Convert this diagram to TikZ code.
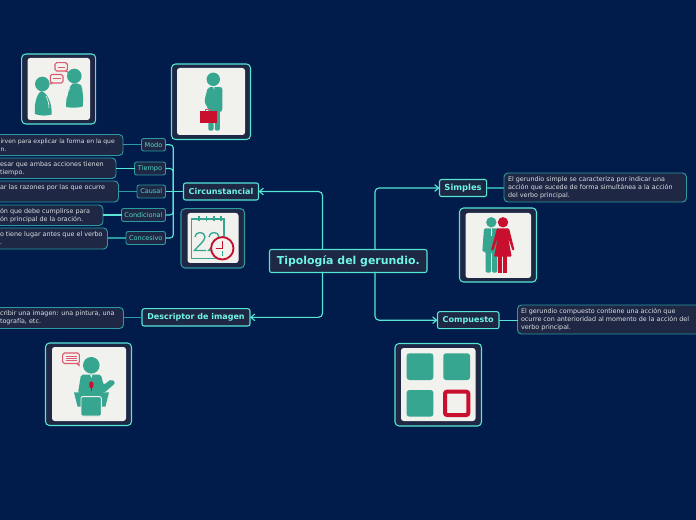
\documentclass[tikz,border=0pt]{standalone}
\usepackage{fontspec}
\setmainfont{DejaVu Sans}
\usetikzlibrary{arrows.meta}
\definecolor{bg}{HTML}{011B4A}
\definecolor{panel}{HTML}{1E2744}
\definecolor{bright}{HTML}{55E6D6}
\definecolor{dim}{HTML}{2C9AA0}
\definecolor{mint}{HTML}{6FF5E6}
\definecolor{smalltxt}{HTML}{DDE0E3}
\definecolor{leaf}{HTML}{4FD6C8}
\definecolor{green}{HTML}{36A690}
\definecolor{redd}{HTML}{C8102E}
\definecolor{pinkk}{HTML}{DC5A70}
\definecolor{paper}{HTML}{F1F1ED}
\tikzset{
  x=0.75pt,y=-0.75pt,
  mainbox/.style={draw=bright,fill=panel,line width=0.8pt,rounded corners=1.6pt,inner sep=0pt,outer sep=0pt,text=mint,font=\bfseries},
  leafbox/.style={draw=dim,fill=panel,line width=0.7pt,rounded corners=1.6pt,inner sep=0pt,outer sep=0pt,text=leaf,font=\fontsize{4.9}{6}\selectfont},
  descbox/.style={draw=dim,fill=panel,line width=0.7pt,rounded corners=3pt,inner sep=0pt,outer sep=0pt},
  desctext/.style={inner sep=0pt,outer sep=0pt,text=smalltxt,align=left,font=\fontsize{4.8}{6}\selectfont},
  arrowlink/.style={draw=bright,line width=0.85pt,rounded corners=3pt,-{Straight Barb[length=3pt,width=5pt]}},
  brlink/.style={draw=bright,line width=0.85pt,rounded corners=2.5pt},
  linkb/.style={draw=bright,line width=0.85pt},
  linkd/.style={draw=dim,line width=1.1pt},
  frameb/.style={draw=bright,fill=panel,line width=0.7pt,rounded corners=3pt},
  framed/.style={draw=dim,fill=panel,line width=0.8pt,rounded corners=3pt},
  sheet/.style={fill=paper,rounded corners=2pt},
  gf/.style={fill=green},
  rf/.style={fill=redd},
  bubble/.style={draw=pinkk,fill=paper,line width=0.8pt,rounded corners=1.2pt},
  bubbleline/.style={draw=pinkk,line width=0.7pt},
}
% name, style, x1, y1, x2, y2, text
\newcommand{\bx}[7]{%
  \pgfmathsetmacro{\bw}{(#5-#3)*0.75}%
  \pgfmathsetmacro{\bh}{(#6-#4)*0.75}%
  \pgfmathsetmacro{\bcx}{(#3+#5)/2}%
  \pgfmathsetmacro{\bcy}{(#4+#6)/2}%
  \node[#2,minimum width=\bw pt,minimum height=\bh pt] (#1) at (\bcx,\bcy) {#7};}
\begin{document}
\begin{tikzpicture}
\useasboundingbox[fill=bg] (0,0) rectangle (696,520);

% free ends of the connectors on the root
\coordinate (rootNW) at (322.5,250);
\coordinate (rootSW) at (322.5,272);
\coordinate (rootNE) at (375,250);
\coordinate (rootSE) at (375,272);

% leaf description boxes
\bx{dmodo}{descbox}{-20}{134.5}{123}{155.5}{}
\bx{dtiempo}{descbox}{-20}{158}{116}{178.5}{}
\bx{dcausal}{descbox}{-20}{181}{118.5}{202}{}
\bx{dcond}{descbox}{-20}{205}{103}{225.5}{}
\bx{dconc}{descbox}{-20}{228}{107.5}{249}{}
\bx{ddesc}{descbox}{-20}{307.5}{123.5}{328.5}{}
\bx{dsimp}{descbox}{504}{173}{686.5}{202}{}
\bx{dcomp}{descbox}{517.5}{305}{710}{334}{}

\node[desctext,anchor=west,font=\fontsize{4.55}{6}\selectfont] (tmodo) at (0.5,145) {irven para explicar la forma en la que\\n.};
\node[desctext,anchor=west] (ttiempo) at (0,168.3) {esar que ambas acciones tienen\\tiempo.};
\node[desctext,anchor=west] (tcausal) at (0,191.5) {ar las razones por las que ocurre\\\phantom{x}};
\node[desctext,anchor=west] (tcond) at (0,215.3) {ón que debe cumplirse para\\ón principal de la oración.};
\node[desctext,anchor=west] (tconc) at (0,238.5) {o tiene lugar antes que el verbo\\.};
\node[desctext,anchor=west] (tdesc) at (0,318) {cribir una imagen: una pintura, una\\tografía, etc.};
\node[desctext,anchor=west] (tsimp) at (508,187.5) {El gerundio simple se caracteriza por indicar una\\acción que sucede de forma simultánea a la acción\\del verbo principal.};
\node[desctext,anchor=west] (tcomp) at (521,319.5) {El gerundio compuesto contiene una acción que\\ocurre con anterioridad al momento de la acción del\\verbo principal.};

% branch labels
\bx{modo}{leafbox}{141.5}{138.5}{165.5}{151}{Modo}
\bx{tiempo}{leafbox}{134.5}{162}{165.5}{175}{Tiempo}
\bx{causal}{leafbox}{137}{185}{165.5}{198}{Causal}
\bx{cond}{leafbox}{121.5}{208.5}{165.5}{221.5}{Condicional}
\bx{conc}{leafbox}{126}{231.5}{165.5}{244.5}{Concesivo}

% main nodes
\bx{root}{mainbox,font=\bfseries\fontsize{8.2}{9}\selectfont}{269.5}{249.5}{427}{272.5}{Tipología del gerundio.}
\bx{circ}{mainbox,font=\bfseries\fontsize{6.05}{7}\selectfont}{183.5}{183}{258.5}{200}{Circunstancial}
\bx{simp}{mainbox,font=\bfseries\fontsize{6.3}{7}\selectfont}{439.5}{179.5}{486.7}{196.5}{Simples}
\bx{comp}{mainbox,font=\bfseries\fontsize{6.05}{7}\selectfont}{437.5}{311.7}{499}{328.7}{Compuesto}
\bx{desc}{mainbox,font=\bfseries\fontsize{6}{7}\selectfont}{142}{308.7}{250}{326}{Descriptor de imagen}

% connectors
\draw[arrowlink] (rootNW) |- (circ.east);
\draw[arrowlink] (rootSW) |- (desc.east);
\draw[arrowlink] (rootNE) |- (simp.west);
\draw[arrowlink] (rootSE) |- (comp.west);
\coordinate (busx) at (173.3,192);
\draw[brlink] (modo.east) -| (busx) |- (conc.east);
\draw[brlink] (tiempo.east) -| (busx);
\draw[brlink] (cond.east) -| (busx);
\draw[linkb] (circ.west) -- (causal.east);
\draw[linkd] (modo.west) -- (modo.west -| dmodo.east);
\draw[linkb] (tiempo.west) -- (tiempo.west -| dtiempo.east);
\draw[linkd] (causal.west) -- (causal.west -| dcausal.east);
\draw[linkb] (cond.west) -- (cond.west -| dcond.east);
\draw[linkd] (conc.west) -- (conc.west -| dconc.east);
\draw[linkd] (desc.west) -- (desc.west -| ddesc.east);
\draw[linkd] (simp.east) -- (simp.east -| dsimp.west);
\draw[linkb] (comp.east) -- (comp.east -| dcomp.west);

% talk icon
\filldraw[framed,draw=bright] (21.7,54) rectangle (95.7,124);
\fill[sheet] (27.5,58) rectangle (90,120);
\fill[gf] (42.3,84) circle (7.3);
\fill[gf] (74.3,76) circle (7.3);
\fill[gf] (41.5,91) .. controls (36,94) and (34,106) .. (35,114) .. controls (40,116) and (47,116) .. (51.7,114.5) .. controls (52,106) and (49,94) .. (41.5,91) -- cycle;
\fill[gf] (73,83.5) .. controls (69,86) and (66,96) .. (66,107) .. controls (71,108) and (78,108) .. (82.7,106.5) .. controls (83.5,98) and (83,90) .. (81,85) .. controls (79,83.5) and (76,83) .. (73,83.5) -- cycle;
\draw[paper,line width=0.5pt] (46,96) .. controls (48,100) and (49,104) .. (49,108);
\draw[paper,line width=0.5pt] (70,88) .. controls (68,91) and (67,94) .. (67,97);
\draw[bubble] (55,62.7) rectangle (67.3,71);
\fill[pinkk] (65,71) -- (68,71) -- (68,73) -- cycle;
\draw[bubbleline] (57.5,67) -- (65,67);
\draw[bubble] (50.3,74.5) rectangle (63,83);
\fill[pinkk] (50.3,81) -- (53,83) -- (50.3,85) -- cycle;
\draw[bubbleline] (52.5,78.8) -- (61,78.8);

% man icon
\filldraw[framed,draw=bright] (171.5,64) rectangle (250.5,139.5);
\fill[sheet] (177,68) rectangle (245,135);
\fill[gf] (213.3,79.3) circle (6.7);
\fill[gf,rounded corners=1.5pt] (208,87.2) -- (222.3,87.2) -- (222.3,111) -- (219.8,111) -- (219.8,130.7) -- (214.8,130.7) -- (214.8,112) -- (213.6,112) -- (213.6,130.7) -- (208.3,130.7) -- (208.3,108) -- (205.5,105) -- (204.5,100) -- cycle;
\fill[paper] (213.3,87.2) -- (214.5,87.2) -- (214.1,90) -- cycle;
\fill[rf] (200,111) rectangle (216.7,122.7);
\draw[pinkk,line width=0.7pt] (205,111) -- (205,109.5) -- (211.5,109.5) -- (211.5,111);

% calendar icon
\filldraw[framed,draw=dim] (181,208.7) rectangle (244.5,268);
\fill[sheet] (187.5,213) rectangle (238.5,263);
\draw[green,line width=0.9pt] (191.7,219) rectangle (224,258.3);
\foreach \rx in {199,206.5,214,221}{\draw[green,line width=0.8pt] (\rx,216.5) -- (\rx,221);}
\draw[green,line width=1pt] (195,237) .. controls (195,231) and (205,231) .. (205,237) .. controls (205,241) and (197,247) .. (194.5,250.5) -- (206,250.5);
\draw[green,line width=1pt] (209,237) .. controls (209,231) and (219,231) .. (219,237) .. controls (219,241) and (211,247) .. (208.5,250.5) -- (220,250.5);
\filldraw[draw=redd,fill=paper,line width=1.4pt] (222.3,248.3) circle (11.2);
\draw[redd,line width=1pt] (222.3,241) -- (222.3,248.5) -- (215.5,248.5);
\draw[green,line width=1pt] (222.3,251) -- (222.3,256);

% couple icon
\filldraw[framed,draw=bright] (459.5,208) rectangle (536.5,282);
\fill[sheet] (465.5,213) rectangle (531,278);
\fill[gf] (491.3,222.3) circle (5.2);
\fill[gf,rounded corners=1pt] (484,228.3) -- (499,228.3) -- (499,251) -- (497.3,251) -- (497.3,272.7) -- (492,272.7) -- (492,252) -- (491,252) -- (491,272.7) -- (485.7,272.7) -- (485.7,251.7) -- (482.3,251.7) -- cycle;
\draw[paper,line width=0.4pt] (491.3,228.5) -- (491.3,236);
\fill[rf] (503,222.3) circle (5.2);
\fill[rf,rounded corners=0.8pt] (497,228.3) -- (509,228.3) -- (514.5,250) -- (512.5,250.7) -- (508,237) -- (511.7,256.7) -- (494,256.7) -- (498,237) -- (493.3,250.7) -- (491,250) -- cycle;
\fill[rf] (498.2,256) rectangle (501.6,272.7);
\fill[rf] (503.3,256) rectangle (506.7,272.7);

% speaker icon
\filldraw[framed,draw=bright] (45.5,343) rectangle (131.5,425.5);
\fill[sheet] (52,347) rectangle (126,421);
\fill[gf] (91.3,365.3) circle (8.3);
\fill[gf,rounded corners=1.5pt] (81,374.5) -- (101,374.5) -- (103.5,385) -- (111.5,379) -- (115.5,383) -- (104,393) -- (78,393) -- cycle;
\fill[paper] (90,374.5) -- (92.6,374.5) -- (91.3,378) -- cycle;
\fill[rf,rounded corners=0.8pt] (89.3,381.7) rectangle (93.3,388);
\draw[redd,line width=0.6pt] (91.3,388) -- (91.3,391);
\fill[gf] (74,392.3) -- (109,392.3) -- (105.5,406.5) -- (77.5,406.5) -- cycle;
\filldraw[draw=paper,fill=green,line width=0.7pt,rounded corners=1pt] (81,396.7) rectangle (101.3,416);
\draw[bubble] (62.7,353) rectangle (79.3,363.5);
\fill[pinkk] (76,363.5) -- (79.5,363.5) -- (79.5,366.5) -- cycle;
\draw[bubbleline] (65.5,356) -- (76.5,356) (65.5,358.3) -- (76.5,358.3) (65.5,360.6) -- (76.5,360.6);

% squares icon
\filldraw[framed,draw=bright] (395,343.5) rectangle (481.5,426);
\fill[sheet] (401,348) rectangle (475.5,421);
\fill[gf,rounded corners=2pt] (406.7,353.3) rectangle (433.3,380);
\fill[gf,rounded corners=2pt] (443.3,353.3) rectangle (470,380);
\fill[gf,rounded corners=2pt] (406.7,390) rectangle (433.3,416.7);
\draw[redd,line width=3pt,rounded corners=1.5pt] (445,391.7) rectangle (468.3,415);
\end{tikzpicture}
\end{document}
